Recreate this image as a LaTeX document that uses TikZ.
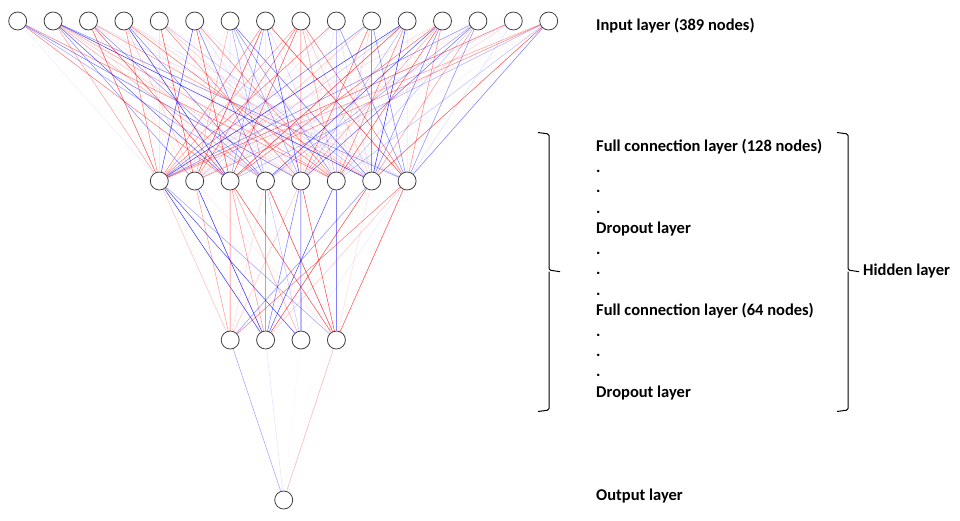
\documentclass[tikz,border=0pt]{standalone}
\usepackage{fontspec}
\setmainfont{Carlito}
\usetikzlibrary{backgrounds}

\tikzset{
  neuron/.style={circle,draw=black!75,line width=0.8pt,fill=white,minimum size=18pt,inner sep=0pt},
  edge/.style={line width=0.55pt},
  layertext/.style={anchor=base west,inner sep=0pt,font=\fontsize{16.5}{19}\selectfont\bfseries},
  bracket/.style={line width=1pt,rounded corners=1.5pt}
}

\begin{document}
\begin{tikzpicture}[x=1pt,y=-1pt]
	\useasboundingbox (0,0) rectangle (960,520);
	% layers of neurons
	\foreach \i in {1,...,16}
		\node[neuron] (in\i) at ({17.7+35.4*(\i-1)},21) {};
	\foreach \i in {1,...,8}
		\node[neuron] (ha\i) at ({159.3+35.4*(\i-1)},181) {};
	\foreach \i in {1,...,4}
		\node[neuron] (hb\i) at ({230.2+35.4*(\i-1)},340) {};
	\node[neuron] (out) at (283.7,500) {};
	% weights, red positive and blue negative
	\pgfmathsetseed{389}
	\begin{scope}[on background layer]
		\foreach \i in {1,...,16}
			\foreach \j in {1,...,8}{
				\pgfmathsetmacro\w{rand}
				\ifdim\w pt>0pt \def\col{red}\else\def\col{blue}\fi
				\pgfmathsetmacro\op{abs(\w)^1.4*0.8}
				\draw[edge,draw=\col,draw opacity=\op] (in\i) -- (ha\j);
			}
		\foreach \i in {1,...,8}
			\foreach \j in {1,...,4}{
				\pgfmathsetmacro\w{rand}
				\ifdim\w pt>0pt \def\col{red}\else\def\col{blue}\fi
				\pgfmathsetmacro\op{abs(\w)^1.4*0.8}
				\draw[edge,draw=\col,draw opacity=\op] (ha\i) -- (hb\j);
			}
		\foreach \j/\col/\op in {1/blue/0.35,2/blue/0.1,3/red/0.03,4/red/0.3}
			\draw[edge,draw=\col,draw opacity=\op] (hb\j) -- (out);
	\end{scope}
	% labels
	\node[layertext] (tin) at (596,30.5) {Input layer (389 nodes)};
	\foreach \t [count=\k from 0] in {Full connection layer (128 nodes),.,.,.,Dropout layer,.,.,.,Full connection layer (64 nodes),.,.,.,Dropout layer}
		\node[layertext] (hl\k) at (596,{151.7+20.48*\k}) {\t};
	\node[layertext] (tout) at (596,500.7) {Output layer};
	% braces
	\foreach \bx in {549,848}
		\draw[bracket] (\bx-11,132.5) -- (\bx,134) -- (\bx,270) -- (\bx+11,271.7)
			(\bx,271.7) -- (\bx,410) -- (\bx-11,411.5);
	\node[layertext] (thid) at (863,275) {Hidden layer};
\end{tikzpicture}
\end{document}
